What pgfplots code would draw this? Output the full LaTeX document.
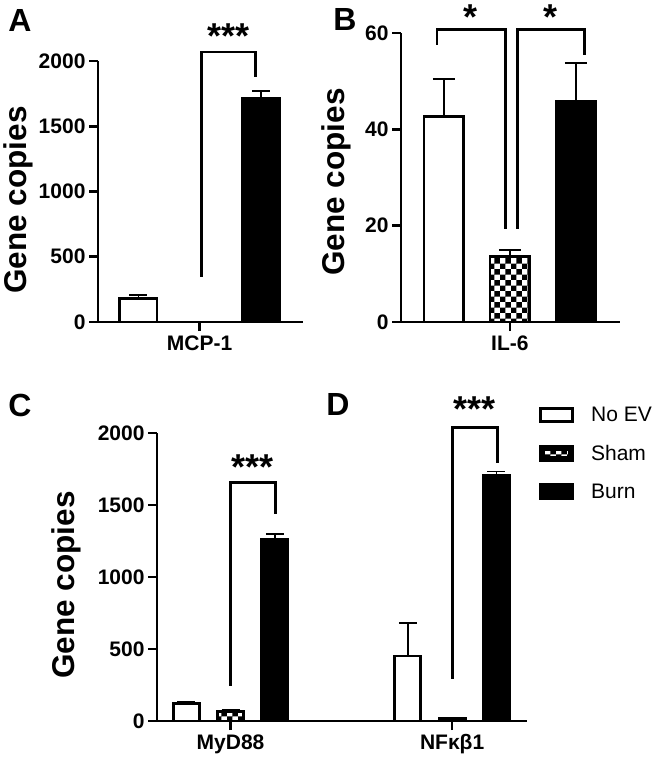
\documentclass[border=0pt]{standalone}
\usepackage{pgfplots}
\pgfplotsset{compat=1.18}
\usepackage{fontspec}
\setmainfont{Liberation Sans}
\usetikzlibrary{patterns}

\newcommand{\fs}[1]{\fontsize{#1pt}{#1pt}\selectfont}

\tikzset{
  brk/.style={line width=2.8pt, line join=miter, line cap=rect},
  stars/.style={font=\bfseries\fs{36}},
}
\pgfplotsset{
  panel/.style={
    scale only axis,
    anchor=south west,
    clip=false,
    axis x line=bottom,
    axis y line=left,
    axis line style={line width=2.8pt,-},
    tick style={line width=2.6pt,black},
    tick align=outside,
    major tick length=9pt,
    ymin=0,
    ytick pos=left, xtick pos=bottom,
    /pgf/number format/assume math mode=true,
    /pgf/number format/1000 sep={},
    tick label style={font=\bfseries\fs{21}},
    xticklabel style={font=\bfseries\fs{21}, yshift=-1pt},
    ybar, bar shift=0pt,
    error bars/y dir=plus,
    error bars/y explicit,
    error bars/error mark=-,
    error bars/error bar style={line width=1.6pt,black},
    error bars/error mark options={rotate=90,black,line width=1.6pt,mark size=9pt},
  },
  noev/.style={draw=black, fill=white, line width=2.8pt},
  sham/.style={draw=black, pattern=checkerboard, pattern color=black, line width=2.8pt},
  burn/.style={draw=black, fill=black, line width=2.8pt},
}

\begin{document}
\begin{tikzpicture}
\path[use as bounding box] (0pt,0pt) rectangle (660pt,-767pt);

% Panel A
\begin{axis}[panel, at={(98pt,-322pt)}, width=205pt, height=261pt,
  xmin=-0.66, xmax=2.69, ymax=2000, ytick={0,500,1000,1500,2000},
  xtick={1}, xticklabels={MCP-1}, bar width=0.61]
\addplot[noev] coordinates {(0,183) +- (0,22)};
\addplot[sham] coordinates {(1,0) +- (0,0)};
\addplot[burn] coordinates {(2,1713) +- (0,57)};
\draw[brk] (axis cs:1.03,354) |- (axis cs:1.92,2069) -- (axis cs:1.92,1890);
\node[stars] at (axis cs:1.47,2190) {***};
\end{axis}

% Panel B
\begin{axis}[panel, at={(401pt,-322pt)}, width=219pt, height=289pt,
  xmin=-0.65, xmax=2.67, ymax=60, ytick={0,20,40,60},
  xtick={1}, xticklabels={IL-6}, bar width=0.6,
  error bars/error mark options={rotate=90,black,line width=1.6pt,mark size=11pt}]
\addplot[noev] coordinates {(0,42.7) +- (0,7.7)};
\addplot[sham] coordinates {(1,13.6) +- (0,1.4)};
\addplot[burn] coordinates {(2,45.8) +- (0,8.0)};
\draw[brk] (axis cs:-0.105,57.8) |- (axis cs:0.94,60.8) -- (axis cs:0.94,19.6);
\draw[brk] (axis cs:1.12,19.6) |- (axis cs:2.13,60.8) -- (axis cs:2.13,55.8);
\node[stars] at (axis cs:0.41,63.3) {*};
\node[stars] at (axis cs:1.61,63.3) {*};
\end{axis}

% Panels C and D
\begin{axis}[panel, at={(157pt,-721pt)}, width=370pt, height=288pt,
  xmin=-0.66, xmax=7.69, ymax=2000, ytick={0,500,1000,1500,2000},
  xtick={1,6}, xticklabels={MyD88,NFκβ1}, bar width=0.587,
  legend style={at={(1.03,1.098)}, anchor=north west, draw=none, fill=none,
    font=\fs{21}, row sep=18pt, inner sep=0pt},
  legend cell align=left]
\addplot[noev, legend image code/.code={\fill[black] (-1.5pt,-7pt) rectangle (30.5pt,7pt);
    \fill[white] (1.5pt,-4pt) rectangle (27.5pt,4pt);
    \path (-2pt,0pt) (46pt,0pt);}]
  coordinates {(0,121) +- (0,12) (5,452) +- (0,228)};
\addlegendentry{No EV}
\addplot[sham, legend image code/.code={\fill[black] (-1.5pt,-7pt) rectangle (30.5pt,7pt);
    \fill[white] (1.5pt,-4pt) rectangle (27.5pt,4pt);
    \fill[pattern=checkerboard, pattern color=black] (1.5pt,-4pt) rectangle (27.5pt,4pt);
    \path (-2pt,0pt) (46pt,0pt);}]
  coordinates {(1,68) +- (0,11) (6,16) +- (0,4)};
\addlegendentry{Sham}
\addplot[burn, legend image code/.code={\fill[black] (-1.5pt,-7pt) rectangle (30.5pt,7pt);
    \path (-2pt,0pt) (46pt,0pt);}]
  coordinates {(2,1260) +- (0,37) (7,1705) +- (0,28)};
\addlegendentry{Burn}
\draw[brk] (axis cs:1,256) |- (axis cs:2.02,1654) -- (axis cs:2.02,1449);
\node[stars] at (axis cs:1.5,1765) {***};
\draw[brk] (axis cs:6,300) |- (axis cs:7.02,2040) -- (axis cs:7.02,1800);
\node[stars] at (axis cs:6.5,2165) {***};
\end{axis}

% y labels
\node[rotate=90, font=\bfseries\fs{31.5}] at (18pt,-200pt) {Gene copies};
\node[rotate=90, font=\bfseries\fs{31.5}] at (336pt,-182pt) {Gene copies};
\node[rotate=90, font=\bfseries\fs{31.5}] at (66pt,-585pt) {Gene copies};

% panel letters
\node[font=\bfseries\fs{32}] at (20pt,-20pt) {A};
\node[font=\bfseries\fs{32}] at (345pt,-19pt) {B};
\node[font=\bfseries\fs{32}] at (20pt,-405pt) {C};
\node[font=\bfseries\fs{32}] at (338pt,-404pt) {D};
\end{tikzpicture}
\end{document}
